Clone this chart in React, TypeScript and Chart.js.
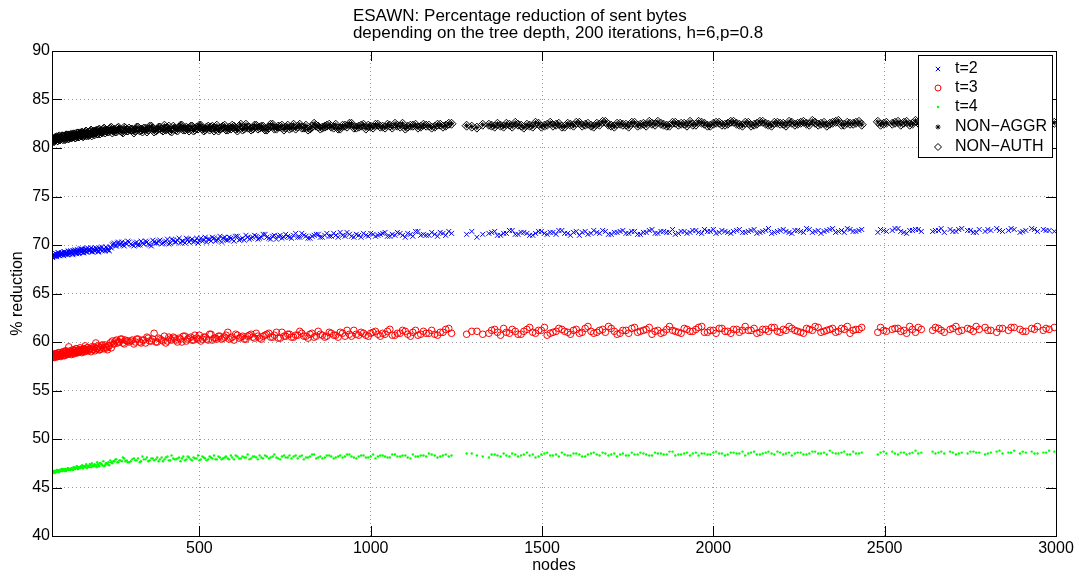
import React, { useEffect, useRef } from 'react';
import { Chart, registerables } from 'chart.js';

Chart.register(...registerables);

// ---------- data ----------
const nodes = [
  72, 74, 77, 79, 82, 84, 87, 89, 92, 94,
  97, 99, 102, 104, 107, 110, 113, 116, 119, 122,
  125, 128, 131, 134, 137, 140, 143, 146, 149, 152,
  155, 158, 161, 164, 167, 170, 174, 178, 182, 186,
  190, 194, 198, 202, 206, 210, 215, 220, 225, 230,
  235, 240, 246, 252, 258, 264, 270, 277, 284, 291,
  300, 309, 317, 326, 334, 343, 351, 360, 368, 377,
  385, 394, 402, 411, 419, 428, 436, 445, 453, 462,
  470, 479, 487, 496, 504, 513, 521, 530, 538, 547,
  556, 565, 574, 583, 592, 601, 611, 621, 631, 641,
  651, 661, 671, 681, 692, 703, 714, 725, 736, 747,
  758, 769, 781, 793, 805, 817, 829, 841, 853, 866,
  879, 892, 905, 918, 931, 944, 958, 972, 986, 1000,
  1014, 1028, 1042, 1056, 1071, 1086, 1101, 1116, 1131, 1146,
  1162, 1178, 1195, 1211, 1228, 1280, 1310, 1345, 1362, 1379,
  1396, 1413, 1430, 1447, 1464, 1481, 1498, 1515, 1532, 1549,
  1566, 1583, 1600, 1617, 1634, 1651, 1668, 1685, 1702, 1719,
  1736, 1753, 1770, 1787, 1804, 1821, 1838, 1855, 1872, 1889,
  1906, 1923, 1940, 1957, 1974, 1991, 2008, 2025, 2042, 2059,
  2076, 2093, 2110, 2127, 2144, 2161, 2178, 2195, 2212, 2229,
  2246, 2263, 2280, 2297, 2314, 2331, 2348, 2365, 2382, 2399,
  2416, 2433, 2480, 2497, 2530, 2547, 2564, 2581, 2598, 2640,
  2657, 2674, 2691, 2708, 2725, 2742, 2759, 2776, 2793, 2810,
  2827, 2844, 2861, 2878, 2895, 2912, 2929, 2946, 2963, 2980,
  2995,
  73, 76, 78, 81, 83, 86, 88, 91, 93, 96,
  98, 101, 105, 108, 111, 114, 117, 120, 124, 127,
  130, 133, 136, 139, 142, 145, 148, 151, 154, 157,
  160, 163, 166, 169, 172, 176, 180, 184, 188, 192,
  196, 200, 204, 208, 212, 217, 222, 227, 232, 237,
  243, 249, 255, 261, 267, 274, 281, 288, 295, 304,
  313, 321, 330, 338, 347, 355, 364, 373, 381, 390,
  398, 407, 415, 424, 432, 441, 449, 458, 466, 475,
  483, 492, 500, 509, 517, 526, 534, 543, 551, 560,
  569, 578, 587, 596, 606, 616, 626, 636, 646, 656,
  666, 676, 686, 697, 708, 719, 730, 741, 752, 763,
  775, 787, 799, 811, 823, 835, 847, 859, 872, 885,
  898, 911, 925, 938, 951, 965, 979, 993, 1007, 1021,
  1035, 1049, 1063, 1078, 1093, 1108, 1123, 1138, 1154, 1170,
  1187, 1203, 1219, 1236, 1295, 1327, 1353, 1370, 1388, 1405,
  1422, 1439, 1456, 1473, 1490, 1507, 1524, 1541, 1558, 1575,
  1592, 1609, 1626, 1643, 1660, 1677, 1694, 1711, 1728, 1745,
  1762, 1779, 1796, 1813, 1830, 1847, 1864, 1881, 1898, 1915,
  1932, 1949, 1966, 1983, 2000, 2017, 2034, 2051, 2068, 2085,
  2102, 2119, 2136, 2153, 2170, 2187, 2204, 2221, 2238, 2255,
  2272, 2289, 2306, 2323, 2340, 2357, 2374, 2391, 2408, 2425,
  2488, 2505, 2522, 2539, 2556, 2573, 2590, 2607, 2648, 2665,
  2699, 2716, 2750, 2767, 2801, 2835, 2869, 2903, 2937, 2971,
];

const t2Vals = [
  68.7, 68.9, 69.0, 68.8, 69.1, 68.9, 69.0, 69.2, 68.9, 69.1,
  69.0, 69.2, 69.1, 68.9, 69.3, 69.1, 69.2, 69.0, 69.3, 69.1,
  69.4, 69.2, 69.1, 69.3, 69.5, 69.2, 69.4, 69.3, 69.1, 69.5,
  69.3, 69.6, 69.2, 69.4, 69.5, 69.3, 69.7, 69.4, 69.5, 69.3,
  69.6, 69.4, 69.7, 69.5, 69.3, 69.6, 69.8, 69.5, 69.4, 69.7,
  69.5, 69.8, 70.0, 70.2, 69.9, 70.3, 70.1, 70.0, 70.2, 70.4,
  70.1, 69.9, 70.3, 70.0, 70.2, 70.4, 70.1, 69.9, 70.3, 70.2,
  70.5, 70.2, 70.4, 70.1, 70.6, 70.3, 70.5, 70.2, 70.4, 70.7,
  70.3, 70.6, 70.4, 70.2, 70.7, 70.5, 70.3, 70.6, 70.8, 70.4,
  70.6, 70.3, 70.8, 70.5, 70.7, 70.4, 70.9, 70.6, 70.5, 70.8,
  70.7, 71.0, 70.6, 70.8, 71.1, 70.7, 70.9, 70.6, 71.0, 70.8,
  70.9, 70.7, 71.2, 70.8, 71.0, 70.7, 70.9, 71.1, 70.8, 71.0,
  70.9, 71.2, 70.8, 71.0, 71.3, 70.9, 71.1, 70.8, 71.0, 71.2,
  70.9, 71.1, 71.3, 70.9, 71.0, 71.2, 70.8, 71.1, 71.4, 71.0,
  71.0, 71.3, 70.9, 71.2, 71.4, 71.1, 70.8, 71.2, 71.4, 71.0,
  71.2, 71.5, 71.1, 71.3, 71.0, 71.2, 71.4, 71.1, 71.3, 71.5,
  71.2, 71.0, 71.4, 71.3, 71.1, 71.5, 71.2, 71.4, 71.1, 71.3,
  71.5, 71.2, 71.4, 71.1, 71.3, 71.6, 71.2, 71.4, 71.3, 71.1,
  71.4, 71.2, 71.5, 71.3, 71.6, 71.4, 71.2, 71.5, 71.3, 71.4,
  71.6, 71.3, 71.5, 71.2, 71.4, 71.7, 71.3, 71.5, 71.4, 71.2,
  71.5, 71.3, 71.6, 71.4, 71.2, 71.5, 71.7, 71.4, 71.3, 71.6,
  71.4, 71.6, 71.3, 71.5, 71.7, 71.4, 71.2, 71.5, 71.6, 71.4,
  71.5, 71.3, 71.6, 71.4, 71.7, 71.5, 71.3, 71.6, 71.4, 71.5,
  71.7, 71.4, 71.5, 71.6, 71.3, 71.5, 71.7, 71.4, 71.6, 71.5,
  71.4,
  68.8, 69.0, 68.9, 69.1, 68.8, 69.0, 69.2, 68.9, 69.1, 69.0,
  69.2, 69.0, 69.3, 69.1, 69.0, 69.2, 69.4, 69.1, 69.3, 69.2,
  69.0, 69.4, 69.2, 69.3, 69.1, 69.5, 69.2, 69.4, 69.6, 69.3,
  69.5, 69.2, 69.4, 69.6, 69.3, 69.5, 69.4, 69.7, 69.3, 69.5,
  69.4, 69.6, 69.3, 69.7, 69.5, 69.4, 69.6, 69.8, 69.5, 69.4,
  69.7, 70.1, 69.9, 70.2, 70.0, 70.3, 69.9, 70.1, 70.3, 70.0,
  70.2, 70.0, 70.4, 70.1, 70.3, 70.0, 70.5, 70.2, 70.4, 70.1,
  70.3, 70.6, 70.2, 70.5, 70.3, 70.7, 70.4, 70.2, 70.6, 70.5,
  70.3, 70.7, 70.5, 70.4, 70.8, 70.6, 70.4, 70.7, 70.5, 70.9,
  70.7, 70.5, 70.8, 70.6, 70.9, 70.5, 70.7, 71.0, 70.6, 70.8,
  70.9, 70.7, 71.1, 70.8, 70.6, 71.0, 70.9, 70.7, 71.1, 70.8,
  71.0, 70.8, 71.2, 70.9, 70.7, 71.0, 71.1, 70.8, 71.2, 70.9,
  71.0, 71.3, 70.9, 71.1, 70.8, 71.0, 71.2, 70.9, 71.1, 71.0,
  71.2, 70.9, 71.1, 71.3, 71.0, 71.2, 70.9, 71.4, 71.1, 71.0,
  71.1, 71.3, 71.0, 71.2, 71.4, 71.1, 71.3, 71.0, 71.2, 71.5,
  71.1, 71.3, 71.2, 71.0, 71.4, 71.2, 71.3, 71.1, 71.5, 71.2,
  71.3, 71.0, 71.4, 71.2, 71.3, 71.5, 71.1, 71.3, 71.4, 71.2,
  71.4, 71.1, 71.3, 71.5, 71.2, 71.4, 71.3, 71.6, 71.2, 71.4,
  71.3, 71.5, 71.2, 71.4, 71.6, 71.3, 71.4, 71.2, 71.5, 71.3,
  71.4, 71.6, 71.3, 71.5, 71.2, 71.4, 71.6, 71.3, 71.5, 71.4,
  71.7, 71.3, 71.5, 71.4, 71.6, 71.3, 71.5, 71.7, 71.4, 71.5,
  71.6, 71.4, 71.5, 71.7, 71.3, 71.5, 71.6, 71.4, 71.5, 71.7,
  71.4, 71.6, 71.5, 71.3, 71.6, 71.5, 71.7, 71.4, 71.6, 71.5,
];

const t3Vals = [
  58.4, 58.6, 58.5, 58.8, 58.6, 58.7, 58.5, 58.9, 58.7, 58.6,
  58.8, 58.7, 59.0, 58.8, 58.6, 59.1, 58.9, 58.8, 59.5, 58.9,
  59.0, 58.8, 59.2, 58.9, 59.1, 59.3, 58.9, 59.0, 59.2, 59.4,
  59.1, 59.0, 59.3, 59.2, 59.6, 59.1, 59.4, 59.2, 59.3, 59.5,
  59.2, 59.4, 59.9, 59.3, 59.5, 59.2, 59.6, 59.4, 59.7, 59.4,
  59.6, 59.9, 60.1, 59.8, 60.2, 60.0, 60.3, 59.9, 60.2, 60.1,
  60.1, 59.8, 60.3, 60.0, 60.2, 59.9, 60.4, 60.1, 60.9, 60.0,
  60.3, 60.1, 59.9, 60.5, 60.2, 60.4, 60.0, 60.3, 60.6, 60.1,
  60.4, 60.2, 60.7, 60.3, 60.1, 60.5, 60.3, 60.8, 60.2, 60.4,
  60.6, 60.3, 60.5, 61.0, 60.4, 60.2, 60.7, 60.5, 60.3, 60.6,
  60.8, 60.4, 60.6, 60.3, 60.7, 60.9, 60.5, 61.0, 60.4, 60.6,
  60.8, 60.5, 60.7, 61.1, 60.6, 60.4, 60.9, 60.6, 60.8, 60.5,
  61.0, 60.7, 60.5, 60.9, 61.2, 60.6, 60.8, 61.0, 60.7, 60.9,
  61.1, 60.6, 60.8, 61.3, 60.7, 60.9, 61.1, 60.6, 61.2, 60.8,
  60.9, 61.2, 60.7, 61.0, 61.4, 60.8, 61.1, 60.9, 61.3, 60.7,
  61.0, 61.3, 60.8, 61.1, 61.5, 60.9, 61.2, 60.7, 61.0, 61.4,
  61.1, 60.8, 61.3, 61.0, 61.6, 60.9, 61.2, 61.0, 61.4, 60.8,
  61.2, 60.9, 61.5, 61.1, 61.3, 60.8, 61.2, 61.0, 61.6, 61.1,
  60.9, 61.3, 61.1, 61.5, 61.0, 61.2, 60.9, 61.4, 61.1, 61.3,
  61.0, 61.6, 61.2, 60.9, 61.3, 61.1, 61.5, 61.0, 61.2, 61.4,
  61.1, 60.9, 61.3, 61.6, 61.0, 61.2, 61.4, 61.1, 61.3, 60.9,
  61.3, 61.5, 61.0, 61.2, 61.4, 61.1, 60.9, 61.3, 61.5, 61.2,
  61.4, 61.0, 61.3, 61.6, 61.2, 61.4, 61.1, 61.3, 61.5, 61.2,
  61.0, 61.4, 61.2, 61.5, 61.3, 61.1, 61.4, 61.6, 61.2, 61.3,
  61.5,
  58.5, 58.7, 58.4, 58.6, 58.8, 58.5, 58.7, 58.6, 58.9, 58.5,
  58.7, 58.9, 58.6, 58.8, 59.0, 58.7, 58.9, 58.8, 59.1, 58.7,
  58.9, 59.1, 58.8, 59.0, 59.3, 58.9, 59.1, 59.0, 59.2, 58.9,
  59.1, 59.3, 59.0, 59.2, 59.4, 59.1, 59.3, 59.0, 59.2, 59.5,
  59.1, 59.3, 59.6, 59.2, 59.4, 59.7, 59.3, 59.5, 59.2, 59.6,
  59.4, 59.8, 60.1, 59.9, 60.0, 60.3, 59.8, 60.1, 60.0, 60.2,
  60.0, 60.3, 59.9, 60.2, 60.5, 60.1, 60.3, 60.0, 60.4, 60.2,
  60.6, 60.1, 60.3, 60.5, 60.2, 60.4, 60.0, 60.6, 60.3, 60.5,
  60.2, 60.4, 60.7, 60.3, 60.5, 60.2, 60.8, 60.4, 60.3, 60.6,
  60.4, 60.7, 60.3, 60.5, 60.8, 60.4, 60.6, 60.3, 60.7, 60.5,
  60.9, 60.4, 60.6, 60.8, 60.5, 60.7, 60.4, 61.0, 60.6, 60.8,
  60.5, 60.7, 60.9, 60.6, 60.8, 60.5, 61.1, 60.7, 60.6, 60.9,
  60.7, 61.0, 60.6, 60.8, 61.2, 60.7, 60.9, 60.6, 61.0, 60.8,
  60.9, 61.1, 60.7, 60.9, 61.2, 60.8, 61.0, 60.7, 61.1, 60.9,
  60.8, 61.0, 61.3, 60.9, 61.1, 60.8, 61.2, 61.0, 61.4, 60.9,
  61.1, 60.8, 61.3, 61.0, 61.2, 61.5, 60.9, 61.1, 61.3, 61.0,
  61.2, 60.9, 61.4, 61.1, 61.0, 61.3, 61.6, 61.1, 60.9, 61.2,
  61.4, 61.0, 61.2, 61.5, 61.1, 60.9, 61.3, 61.2, 61.0, 61.4,
  61.1, 61.3, 61.6, 61.0, 61.2, 61.4, 61.1, 60.9, 61.3, 61.2,
  61.2, 61.4, 61.0, 61.3, 61.5, 61.1, 61.3, 61.6, 61.2, 61.0,
  61.4, 61.2, 61.5, 61.1, 61.3, 61.0, 61.4, 61.6, 61.2, 61.3,
  61.5, 61.1, 61.3, 61.4, 61.2, 61.6, 61.0, 61.3, 61.5, 61.2,
  61.4, 61.1, 61.3, 61.6, 61.2, 61.4, 61.5, 61.1, 61.3, 61.4,
];

const t4Vals = [
  46.5, 46.6, 46.7, 46.6, 46.7, 46.8, 46.7, 46.6, 46.8, 46.7,
  46.8, 46.7, 46.9, 46.8, 46.7, 46.9, 46.8, 47.0, 46.8, 46.9,
  46.9, 47.0, 46.8, 47.1, 46.9, 47.0, 47.2, 46.9, 47.1, 47.0,
  47.1, 47.3, 47.0, 47.2, 47.1, 47.4, 47.2, 47.1, 47.3, 47.5,
  47.2, 47.4, 47.3, 47.6, 47.2, 47.5, 47.4, 47.7, 47.3, 47.5,
  47.6, 47.8, 47.5, 47.7, 47.9, 47.6, 47.8, 48.1, 47.7, 47.6,
  47.7, 48.0, 47.8, 47.6, 48.2, 47.9, 47.7, 48.0, 47.8, 48.1,
  47.9, 47.7, 48.1, 47.8, 48.3, 47.9, 48.0, 47.7, 48.2, 47.9,
  48.1, 47.8, 48.0, 48.3, 47.9, 48.1, 47.8, 48.2, 48.0, 47.9,
  48.2, 47.9, 48.1, 48.0, 48.3, 47.9, 48.2, 48.0, 48.1, 48.4,
  48.0, 48.2, 47.9, 48.1, 48.3, 48.0, 48.2, 48.1, 47.9, 48.3,
  48.1, 48.0, 48.3, 48.2, 47.9, 48.1, 48.4, 48.0, 48.2, 48.1,
  48.3, 48.0, 48.2, 48.1, 48.4, 48.2, 48.0, 48.3, 48.1, 48.2,
  48.0, 48.3, 48.2, 48.1, 48.4, 48.2, 48.3, 48.0, 48.2, 48.3,
  48.2, 48.4, 48.1, 48.3, 48.2, 48.5, 48.3, 48.1, 48.4, 48.2,
  48.3, 48.5, 48.2, 48.4, 48.3, 48.1, 48.4, 48.6, 48.3, 48.2,
  48.4, 48.3, 48.5, 48.2, 48.4, 48.6, 48.3, 48.5, 48.4, 48.2,
  48.5, 48.3, 48.4, 48.6, 48.4, 48.3, 48.5, 48.4, 48.7, 48.3,
  48.4, 48.6, 48.5, 48.3, 48.5, 48.4, 48.7, 48.5, 48.4, 48.6,
  48.5, 48.3, 48.6, 48.4, 48.5, 48.7, 48.4, 48.6, 48.5, 48.3,
  48.6, 48.4, 48.5, 48.7, 48.5, 48.4, 48.6, 48.5, 48.7, 48.4,
  48.5, 48.6, 48.4, 48.7, 48.5, 48.6, 48.4, 48.6, 48.5, 48.7,
  48.6, 48.5, 48.7, 48.4, 48.6, 48.5, 48.7, 48.6, 48.4, 48.6,
  48.7, 48.5, 48.6, 48.8, 48.5, 48.6, 48.7, 48.5, 48.6, 48.8,
  48.7,
  46.6, 46.7, 46.5, 46.7, 46.6, 46.8, 46.7, 46.6, 46.8, 46.7,
  46.9, 46.7, 46.8, 46.9, 46.7, 46.8, 47.0, 46.9, 46.8, 47.0,
  46.9, 47.1, 46.9, 47.0, 47.2, 46.9, 47.1, 47.0, 47.2, 47.1,
  47.0, 47.2, 47.1, 47.3, 47.0, 47.2, 47.4, 47.1, 47.3, 47.2,
  47.3, 47.1, 47.4, 47.2, 47.5, 47.3, 47.2, 47.5, 47.4, 47.3,
  47.6, 47.7, 47.9, 47.6, 47.8, 47.7, 48.0, 47.8, 47.6, 47.9,
  47.8, 48.0, 47.7, 47.9, 48.1, 47.8, 48.0, 47.9, 47.7, 48.1,
  47.9, 48.2, 47.8, 48.0, 47.9, 48.1, 48.0, 47.8, 48.2, 47.9,
  48.1, 48.0, 47.8, 48.2, 48.0, 47.9, 48.1, 48.3, 47.9, 48.1,
  48.0, 48.2, 47.9, 48.1, 48.3, 48.0, 48.2, 48.1, 47.9, 48.2,
  48.1, 48.3, 48.0, 48.2, 48.1, 48.4, 48.0, 48.2, 48.1, 48.3,
  48.2, 48.0, 48.3, 48.1, 48.2, 48.4, 48.1, 48.0, 48.3, 48.2,
  48.1, 48.3, 48.2, 48.4, 48.1, 48.2, 48.3, 48.1, 48.4, 48.2,
  48.3, 48.1, 48.4, 48.2, 48.3, 48.1, 48.4, 48.2, 48.3, 48.5,
  48.3, 48.2, 48.4, 48.3, 48.5, 48.2, 48.4, 48.3, 48.5, 48.2,
  48.4, 48.3, 48.6, 48.4, 48.2, 48.5, 48.3, 48.4, 48.6, 48.3,
  48.5, 48.4, 48.2, 48.5, 48.4, 48.6, 48.3, 48.5, 48.4, 48.3,
  48.6, 48.4, 48.5, 48.3, 48.6, 48.5, 48.4, 48.7, 48.4, 48.5,
  48.3, 48.6, 48.5, 48.4, 48.6, 48.5, 48.3, 48.6, 48.5, 48.7,
  48.5, 48.7, 48.4, 48.6, 48.5, 48.7, 48.4, 48.6, 48.5, 48.6,
  48.4, 48.7, 48.5, 48.6, 48.8, 48.5, 48.6, 48.4, 48.7, 48.5,
  48.6, 48.5, 48.7, 48.4, 48.6, 48.5, 48.8, 48.6, 48.5, 48.7,
  48.6, 48.5, 48.7, 48.6, 48.5, 48.8, 48.6, 48.7, 48.5, 48.6,
];

const nonAuthVals = [
  80.7, 80.9, 80.8, 81.0, 80.9, 81.1, 80.8, 81.0, 81.1, 80.9,
  81.0, 81.2, 80.9, 81.1, 81.2, 81.0, 81.3, 81.1, 81.0, 81.2,
  81.3, 81.1, 81.2, 81.4, 81.1, 81.3, 81.2, 81.5, 81.2, 81.4,
  81.3, 81.5, 81.2, 81.4, 81.6, 81.3, 81.5, 81.4, 81.7, 81.3,
  81.6, 81.4, 81.7, 81.5, 81.8, 81.5, 81.7, 81.9, 81.6, 81.8,
  81.7, 82.0, 81.6, 81.9, 81.7, 82.1, 81.8, 81.6, 82.0, 81.8,
  81.9, 81.6, 82.1, 81.8, 81.7, 82.0, 81.9, 82.2, 81.7, 81.9,
  82.1, 81.8, 81.9, 82.2, 81.7, 82.0, 81.8, 82.3, 81.9, 82.1,
  81.8, 82.2, 81.9, 82.0, 82.3, 81.8, 82.1, 81.9, 82.2, 82.0,
  81.8, 82.1, 82.3, 81.9, 82.0, 82.2, 81.8, 82.4, 82.0, 82.1,
  81.9, 82.3, 82.0, 82.2, 81.9, 82.1, 82.4, 82.0, 82.2, 81.9,
  82.3, 82.1, 82.0, 82.4, 82.1, 81.9, 82.2, 82.3, 82.0, 82.2,
  82.4, 82.1, 82.0, 82.3, 82.2, 82.5, 82.1, 82.3, 82.0, 82.2,
  82.4, 82.2, 82.1, 82.3, 82.5, 82.2, 82.0, 82.3, 82.4, 82.2,
  82.3, 82.1, 82.4, 82.2, 82.5, 82.3, 82.1, 82.4, 82.2, 82.3,
  82.5, 82.2, 82.4, 82.1, 82.3, 82.6, 82.2, 82.4, 82.3, 82.5,
  82.2, 82.4, 82.6, 82.3, 82.5, 82.2, 82.4, 82.7, 82.3, 82.5,
  82.4, 82.2, 82.6, 82.4, 82.3, 82.5, 82.7, 82.4, 82.3, 82.6,
  82.5, 82.3, 82.4, 82.7, 82.5, 82.3, 82.6, 82.4, 82.5, 82.7,
  82.4, 82.6, 82.3, 82.5, 82.7, 82.4, 82.6, 82.5, 82.3, 82.6,
  82.5, 82.7, 82.4, 82.6, 82.5, 82.3, 82.6, 82.8, 82.4, 82.5,
  82.6, 82.4, 82.7, 82.5, 82.6, 82.4, 82.7, 82.5, 82.6, 82.4,
  82.7, 82.5, 82.6, 82.4, 82.8, 82.6, 82.5, 82.7, 82.4, 82.6,
  82.5, 82.7, 82.6, 82.4, 82.7, 82.5, 82.8, 82.6, 82.5, 82.7,
  82.6,
  80.8, 80.7, 81.0, 80.9, 81.1, 80.8, 81.0, 81.2, 80.9, 81.1,
  81.0, 81.2, 81.1, 80.9, 81.3, 81.2, 81.0, 81.3, 81.1, 81.4,
  81.2, 81.4, 81.3, 81.1, 81.5, 81.3, 81.2, 81.5, 81.4, 81.6,
  81.3, 81.5, 81.4, 81.7, 81.5, 81.3, 81.6, 81.8, 81.5, 81.7,
  81.6, 81.8, 81.5, 81.9, 81.7, 81.6, 82.0, 81.8, 81.7, 81.9,
  82.1, 81.8, 81.7, 82.0, 81.9, 81.7, 82.1, 81.8, 82.0, 81.9,
  81.8, 82.1, 81.9, 82.0, 81.7, 82.2, 82.0, 81.8, 82.1, 81.9,
  82.3, 82.0, 81.8, 82.2, 81.9, 82.1, 82.3, 81.9, 82.0, 82.2,
  81.8, 82.1, 82.3, 82.0, 81.9, 82.2, 82.1, 81.8, 82.3, 82.0,
  82.2, 81.9, 82.1, 82.3, 82.0, 82.2, 81.9, 82.4, 82.1, 82.0,
  82.3, 82.1, 82.2, 81.9, 82.4, 82.0, 82.2, 82.3, 82.1, 82.0,
  82.4, 82.2, 82.1, 82.3, 82.0, 82.5, 82.2, 82.1, 82.3, 82.2,
  82.4, 82.0, 82.3, 82.5, 82.1, 82.2, 82.4, 82.3, 82.1, 82.4,
  82.2, 82.4, 82.1, 82.3, 82.5, 82.2, 82.3, 82.1, 82.4, 82.3,
  82.2, 82.4, 82.3, 82.5, 82.2, 82.4, 82.3, 82.5, 82.2, 82.4,
  82.6, 82.3, 82.4, 82.2, 82.5, 82.3, 82.6, 82.4, 82.2, 82.5,
  82.3, 82.6, 82.4, 82.3, 82.5, 82.7, 82.4, 82.2, 82.5, 82.4,
  82.6, 82.3, 82.5, 82.7, 82.4, 82.5, 82.3, 82.6, 82.4, 82.5,
  82.7, 82.4, 82.6, 82.3, 82.5, 82.6, 82.4, 82.7, 82.5, 82.3,
  82.6, 82.4, 82.7, 82.5, 82.3, 82.6, 82.5, 82.7, 82.4, 82.6,
  82.5, 82.8, 82.4, 82.6, 82.5, 82.7, 82.4, 82.6, 82.5, 82.7,
  82.4, 82.6, 82.5, 82.7, 82.6, 82.4, 82.8, 82.5, 82.6, 82.7,
  82.5, 82.6, 82.4, 82.7, 82.6, 82.5, 82.7, 82.6, 82.4, 82.6,
];

// NON-AGGR reduction coincides with NON-AUTH (hidden under the diamonds)
const nonAggrVals = nonAuthVals;

const seriesLabels = ['t=2', 't=3', 't=4', 'NON\u2212AGGR', 'NON\u2212AUTH'];
const titleLines = [
  'ESAWN: Percentage reduction of sent bytes',
  'depending on the tree depth, 200 iterations, h=6,p=0.8',
];
const xTitle = 'nodes';
const yTitle = '% reduction';
const xTickVals = [500, 1000, 1500, 2000, 2500, 3000];
const yTickVals = [40, 45, 50, 55, 60, 65, 70, 75, 80, 85, 90];
const xMin = 70;
const xMax = 3000;
const yMin = 40;
const yMax = 90;

const FONT = '"Liberation Sans", Arial, Helvetica, sans-serif';

function toPoints(vals: number[]) {
  return nodes.map((x, i) => ({ x, y: vals[i] }));
}

function drawMarker(ctx: CanvasRenderingContext2D, kind: number, x: number, y: number) {
  ctx.save();
  ctx.lineWidth = 1;
  if (kind === 0) {
    ctx.strokeStyle = '#0000ff';
    const r = 2.2;
    ctx.beginPath();
    ctx.moveTo(x - r, y - r); ctx.lineTo(x + r, y + r);
    ctx.moveTo(x - r, y + r); ctx.lineTo(x + r, y - r);
    ctx.stroke();
  } else if (kind === 1) {
    ctx.strokeStyle = '#ff0000';
    ctx.beginPath(); ctx.arc(x, y, 3, 0, Math.PI * 2); ctx.stroke();
  } else if (kind === 2) {
    ctx.fillStyle = '#00ff00';
    ctx.beginPath(); ctx.arc(x, y, 1.2, 0, Math.PI * 2); ctx.fill();
  } else if (kind === 3) {
    ctx.strokeStyle = '#000';
    const r = 2.5;
    ctx.beginPath();
    ctx.moveTo(x - r, y); ctx.lineTo(x + r, y);
    ctx.moveTo(x, y - r); ctx.lineTo(x, y + r);
    const d = r * 0.707;
    ctx.moveTo(x - d, y - d); ctx.lineTo(x + d, y + d);
    ctx.moveTo(x - d, y + d); ctx.lineTo(x + d, y - d);
    ctx.stroke();
  } else {
    ctx.strokeStyle = '#000';
    const r = 3.5;
    ctx.beginPath();
    ctx.moveTo(x, y - r); ctx.lineTo(x + r, y); ctx.lineTo(x, y + r); ctx.lineTo(x - r, y); ctx.closePath();
    ctx.stroke();
  }
  ctx.restore();
}

const decorPlugin = {
  id: 'matlabDecor',
  afterDraw(chart: any) {
    const { ctx, chartArea: a, scales } = chart;
    ctx.save();
    // axes box
    ctx.strokeStyle = '#000';
    ctx.lineWidth = 1;
    ctx.strokeRect(a.left + 0.5, a.top + 0.5, a.right - a.left, a.bottom - a.top);
    // inner ticks
    const tl = 10;
    ctx.beginPath();
    scales.x.ticks.forEach((t: any) => {
      const px = Math.round(scales.x.getPixelForValue(t.value)) + 0.5;
      ctx.moveTo(px, a.bottom); ctx.lineTo(px, a.bottom - tl);
      ctx.moveTo(px, a.top); ctx.lineTo(px, a.top + tl);
    });
    scales.y.ticks.forEach((t: any) => {
      const py = Math.round(scales.y.getPixelForValue(t.value)) + 0.5;
      ctx.moveTo(a.left, py); ctx.lineTo(a.left + tl, py);
      ctx.moveTo(a.right, py); ctx.lineTo(a.right - tl, py);
    });
    ctx.stroke();

    // title (two rows sharing one left edge, block centred over plot)
    ctx.fillStyle = '#000';
    ctx.font = `17px ${FONT}`;
    ctx.textBaseline = 'middle';
    ctx.textAlign = 'left';
    const w = Math.max(...titleLines.map((s) => ctx.measureText(s).width));
    const x0 = (a.left + a.right) / 2 - w / 2 + 4;
    ctx.fillText(titleLines[0], x0, 16);
    ctx.fillText(titleLines[1], x0, 33);

    // legend
    const lx = 918, ly = 55, lw = 134, lh = 102;
    ctx.fillStyle = '#fff';
    ctx.fillRect(lx, ly, lw, lh);
    ctx.strokeStyle = '#000';
    ctx.strokeRect(lx + 0.5, ly + 0.5, lw, lh);
    ctx.font = `16px ${FONT}`;
    const rows = [69, 88, 107, 127, 147];
    seriesLabels.forEach((lab, i) => {
      drawMarker(ctx, i, 938, rows[i]);
      ctx.fillStyle = '#000';
      ctx.fillText(lab, 955, rows[i]);
    });
    ctx.restore();
  },
};

export default function App() {
  const ref = useRef<HTMLCanvasElement | null>(null);
  useEffect(() => {
    document.body.style.margin = '0';
    const canvas = ref.current;
    if (!canvas) return;
    Chart.defaults.font.family = FONT;
    Chart.defaults.font.size = 16;
    Chart.defaults.color = '#000';
    const chart = new Chart(canvas, {
      type: 'scatter',
      data: {
        datasets: [
          {
            label: seriesLabels[0],
            data: toPoints(t2Vals),
            pointStyle: 'crossRot',
            pointRadius: 3.5,
            pointHoverRadius: 3.5,
            borderColor: '#0000ff',
            backgroundColor: 'rgba(0,0,0,0)',
            borderWidth: 1,
            order: 4,
          },
          {
            label: seriesLabels[1],
            data: toPoints(t3Vals),
            pointStyle: 'circle',
            pointRadius: 3.3,
            pointHoverRadius: 3.3,
            borderColor: '#ff0000',
            backgroundColor: 'rgba(0,0,0,0)',
            borderWidth: 1,
            order: 3,
          },
          {
            label: seriesLabels[2],
            data: toPoints(t4Vals),
            pointStyle: 'circle',
            pointRadius: 1.2,
            pointHoverRadius: 1.2,
            borderColor: '#00ff00',
            backgroundColor: '#00ff00',
            borderWidth: 0,
            order: 2,
          },
          {
            label: seriesLabels[3],
            data: toPoints(nonAggrVals),
            pointStyle: 'star',
            pointRadius: 2.5,
            pointHoverRadius: 2.5,
            borderColor: '#000000',
            backgroundColor: 'rgba(0,0,0,0)',
            borderWidth: 1,
            order: 1,
          },
          {
            label: seriesLabels[4],
            data: toPoints(nonAuthVals),
            pointStyle: 'rectRot',
            pointRadius: 4.5,
            pointHoverRadius: 4.5,
            borderColor: '#000000',
            backgroundColor: 'rgba(0,0,0,0)',
            borderWidth: 1,
            order: 0,
          },
        ],
      },
      options: {
        animation: false,
        responsive: false,
        events: [],
        layout: { padding: { top: 51, right: 23, bottom: 0, left: 0 } },
        plugins: {
          legend: { display: false },
          title: { display: false },
          tooltip: { enabled: false },
        },
        scales: {
          x: {
            type: 'linear',
            min: xMin,
            max: xMax,
            afterFit: (s: any) => { s.height = 40; },
            afterBuildTicks: (s: any) => { s.ticks = xTickVals.map((v) => ({ value: v })); },
            ticks: { padding: 3, maxRotation: 0, autoSkip: false, color: '#000', font: { size: 16 }, callback: (v: any) => String(v) },
            grid: { color: '#9a9a9a', lineWidth: 1, drawTicks: false },
            border: { display: false, dash: [1, 3] },
            title: { display: true, text: xTitle, color: '#000', font: { size: 16 }, padding: { top: 0, bottom: 1 } },
          },
          y: {
            type: 'linear',
            min: yMin,
            max: yMax,
            afterFit: (s: any) => { s.width = 52; },
            afterBuildTicks: (s: any) => { s.ticks = yTickVals.map((v) => ({ value: v })); },
            ticks: { padding: 2, autoSkip: false, color: '#000', font: { size: 16 }, callback: (v: any) => String(v) },
            grid: { color: '#9a9a9a', lineWidth: 1, drawTicks: false },
            border: { display: false, dash: [1, 3] },
            title: { display: true, text: yTitle, color: '#000', font: { size: 16 }, padding: { top: 8, bottom: 0 } },
          },
        },
      },
      plugins: [decorPlugin],
    } as any);
    return () => chart.destroy();
  }, []);
  return <canvas ref={ref} width={1079} height={576} style={{ display: 'block' }} />;
}
